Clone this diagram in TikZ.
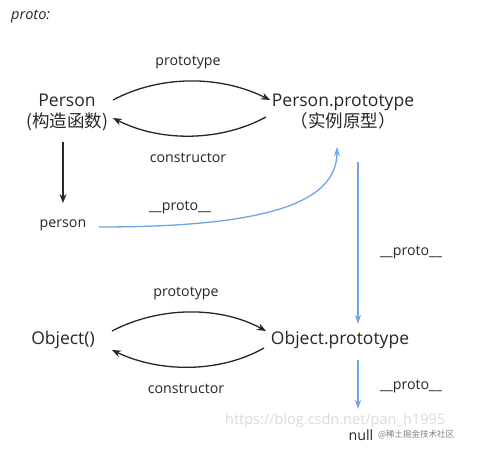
\documentclass[tikz,border=0pt]{standalone}
\usepackage{fontspec}
\setmainfont{Open Sans}
\newfontfamily\cjk{Noto Sans CJK SC}
\usetikzlibrary{arrows.meta}
\definecolor{ink}{HTML}{262626}
\definecolor{blu}{HTML}{6CA6E6}
\definecolor{wm}{HTML}{DADADA}
\begin{document}
\begin{tikzpicture}[x=1pt,y=-1pt,
  big/.style={text=ink,font=\fontsize{17.5}{21}\selectfont,align=center,inner sep=0pt},
  lbl/.style={text=ink,font=\fontsize{14.2}{17}\selectfont,inner sep=0pt},
  blk/.style={draw=ink,line width=1.3pt,-{Stealth[length=9pt,width=7pt]}},
  bl/.style={draw=blu,line width=1.3pt,-{Stealth[length=9pt,width=6pt]}}]
\useasboundingbox (0,0) rectangle (482,450);
\node[text=ink,font=\itshape\fontsize{14.5}{17}\selectfont,anchor=west,inner sep=0pt] (title) at (11,16) {proto:};
% top row
\node[big] (P) at (67,112) {Person\\{\cjk (构造函数)}};
\node[big] (PP) at (343,112) {Person.prototype\\{\cjk （实例原型）}};
\node[lbl] (l1) at (188,63) {prototype};
\node[lbl] (l2) at (188,158) {constructor};
\coordinate (a1) at (113,100);
\coordinate (a2) at (270,100);
\coordinate (b1) at (266,117);
\coordinate (b2) at (113,118);
\draw[blk] (a1) .. controls (160,75) and (220,75) .. (a2);
\draw[blk] (b1) .. controls (220,142) and (160,142) .. (b2);
% person
\node[lbl] (p) at (63,225) {person};
\coordinate (d1) at (63,142);
\coordinate (d2) at (63,203);
\draw[blk] (d1) -- (d2);
\node[lbl] (l3) at (180,208) {\_\_proto\_\_};
\coordinate (c1) at (99,227);
\coordinate (c2) at (337,147);
\draw[bl] (c1) .. controls (260,227) and (337,205) .. (c2);
% vertical
\node[lbl] (l4) at (411,253) {\_\_proto\_\_};
\node[big] (OP) at (340,340) {Object.prototype};
\node[big] (O) at (63,340) {Object()};
\coordinate (v1) at (358,162);
\coordinate (v2) at (358,324);
\draw[bl] (v1) -- (v2);
% bottom row
\node[lbl] (l5) at (186,294) {prototype};
\node[lbl] (l6) at (186,389) {constructor};
\coordinate (e1) at (112,331);
\coordinate (e2) at (266,331);
\coordinate (f1) at (264,348);
\coordinate (f2) at (112,350);
\draw[blk] (e1) .. controls (160,306) and (220,306) .. (e2);
\draw[blk] (f1) .. controls (220,373) and (160,373) .. (f2);
\node[lbl] (l7) at (411,387) {\_\_proto\_\_};
\node[lbl] (N) at (361,435) {null};
\coordinate (g1) at (358,360);
\coordinate (g2) at (358,409);
\draw[bl] (g1) -- (g2);
% watermarks
\node[text=wm,font=\fontsize{14.5}{17}\selectfont,anchor=west,inner sep=0pt] (w1) at (225,421) {https://blog.csdn.net/pan\_h1995};
\node[text=gray,font=\cjk\fontsize{8.5}{10}\selectfont,anchor=west,inner sep=0pt] (w2) at (378,435) {@稀土掘金技术社区};
\end{tikzpicture}
\end{document}
